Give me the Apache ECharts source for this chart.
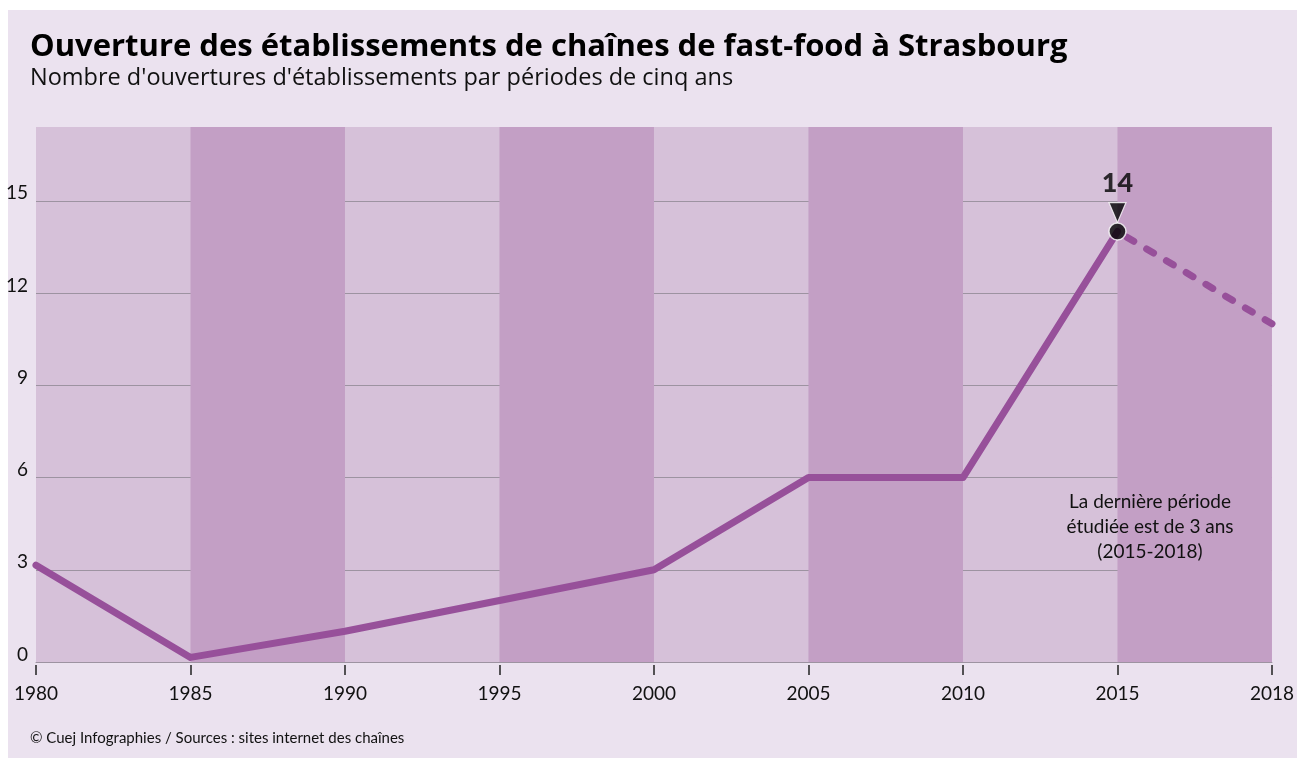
<!DOCTYPE html>
<html>
<head>
<meta charset="utf-8">
<script src="https://cdn.jsdelivr.net/npm/echarts@6/dist/echarts.min.js"></script>
<style>
  html, body { margin: 0; padding: 0; background: #ffffff; }
  #main { width: 1297px; height: 758px; }
</style>
</head>
<body>
<div id="main"></div>
<script>
// données
const years = ["1980", "1985", "1990", "1995", "2000", "2005", "2010", "2015", "2018"];
const openings = [3.15, 0.15, 1, 2, 3, 6, 6, 14, 11];
const yTicks = [0, 3, 6, 9, 12, 15];
const darkBands = [["1985", "1990"], ["1995", "2000"], ["2005", "2010"], ["2015", "2018"]];
const peakIndex = 7; // 2015, dernier point complet
const peakLabel = "14";

const FONT = "Lato";
const TITLE_FONT = "'Open Sans'";
const LINE = "#97509a";
const GRID = "#9d93a1";

// ligne pleine jusqu'à 2015, pointillés ensuite
const solid = openings.map((v, i) => (i <= peakIndex ? v : null));
const dashed = openings.map((v, i) => (i >= peakIndex ? v : null));

let chart = echarts.init(document.getElementById("main"));
let option = {
  animation: false,
  backgroundColor: "transparent",
  textStyle: { fontFamily: FONT },
  graphic: [
    {
      type: "rect",
      z: -10,
      shape: { x: 8, y: 10, width: 1289, height: 748 },
      style: { fill: "#ebe2ef" },
    },
    {
      type: "text",
      left: 30,
      top: 32,
      style: {
        text: "Ouverture des établissements de chaînes de fast-food à Strasbourg",
        font: "bold 31px " + TITLE_FONT,
        fill: "#000",
      },
    },
    {
      type: "text",
      left: 30,
      top: 66,
      style: {
        text: "Nombre d'ouvertures d'établissements par périodes de cinq ans",
        font: "23.5px " + TITLE_FONT,
        fill: "#111",
      },
    },
    {
      type: "text",
      left: 30,
      top: 731,
      style: {
        text: "© Cuej Infographies / Sources : sites internet des chaînes",
        font: "15px " + FONT,
        fill: "#111",
      },
    },
    {
      type: "text",
      x: 1150,
      y: 527,
      z: 10,
      style: {
        text: "La dernière période\nétudiée est de 3 ans\n(2015-2018)",
        font: "19px " + FONT,
        lineHeight: 25,
        align: "center",
        verticalAlign: "middle",
        fill: "#111",
      },
    },
  ],
  grid: {
    left: 36,
    right: 24,
    top: 127,
    bottom: 96,
    show: true,
    backgroundColor: "#d6c1d9",
    borderWidth: 0,
  },
  xAxis: [
    {
      type: "category",
      data: years,
      boundaryGap: false,
      axisLine: { show: true, lineStyle: { color: GRID, width: 1 } },
      axisTick: { show: false },
      splitLine: { show: false },
      axisLabel: {
        margin: 22,
        color: "#111",
        fontSize: 19,
        fontFamily: FONT,
      },
    },
    {
      type: "category",
      data: years,
      boundaryGap: false,
      position: "bottom",
      offset: 3,
      axisLine: { show: false },
      axisTick: { show: true, length: 10, lineStyle: { color: "#222", width: 1.5 } },
      axisLabel: { show: false },
    },
  ],
  yAxis: {
    type: "value",
    min: 0,
    max: 17.4,
    interval: 3,
    axisLine: { show: false },
    axisTick: { show: false },
    splitLine: {
      show: true,
      showMaxLine: false,
      lineStyle: { color: GRID, width: 1 },
    },
    axisLabel: {
      showMaxLabel: false,
      margin: 8,
      color: "#111",
      fontSize: 19,
      fontFamily: FONT,
      verticalAlign: "bottom",
      lineHeight: 15,
      formatter: (v) => (yTicks.includes(v) ? String(v) : ""),
    },
  },
  series: [
    {
      type: "line",
      data: solid,
      symbol: "none",
      z: 3,
      lineStyle: { color: LINE, width: 7, cap: "round", join: "round" },
      markArea: {
        silent: true,
        itemStyle: { color: "#c39fc5" },
        data: darkBands.map((b) => [{ xAxis: b[0] }, { xAxis: b[1] }]),
      },
    },
    {
      type: "line",
      data: dashed,
      symbol: "none",
      z: 3,
      lineStyle: { color: LINE, width: 7, type: [8, 15], dashOffset: 12, cap: "round", join: "round" },
    },
    {
      // triangle pointant vers le point
      type: "scatter",
      data: [[years[peakIndex], openings[peakIndex]]],
      symbol: "triangle",
      symbolRotate: 180,
      symbolSize: [17, 20],
      symbolOffset: [0, -19],
      z: 5,
      itemStyle: { color: "#000", borderColor: "#fff", borderWidth: 1.2 },
    },
    {
      type: "scatter",
      data: [[years[peakIndex], openings[peakIndex]]],
      symbol: "circle",
      symbolSize: 17,
      z: 6,
      itemStyle: { color: "#000", borderColor: "#fff", borderWidth: 1.5 },
      label: {
        show: true,
        position: "top",
        distance: 25,
        formatter: () => peakLabel,
        color: "#000",
        fontSize: 27,
        fontWeight: 900,
        fontFamily: FONT,
      },
    },
  ],
};
chart.setOption(option);
</script>
</body>
</html>
